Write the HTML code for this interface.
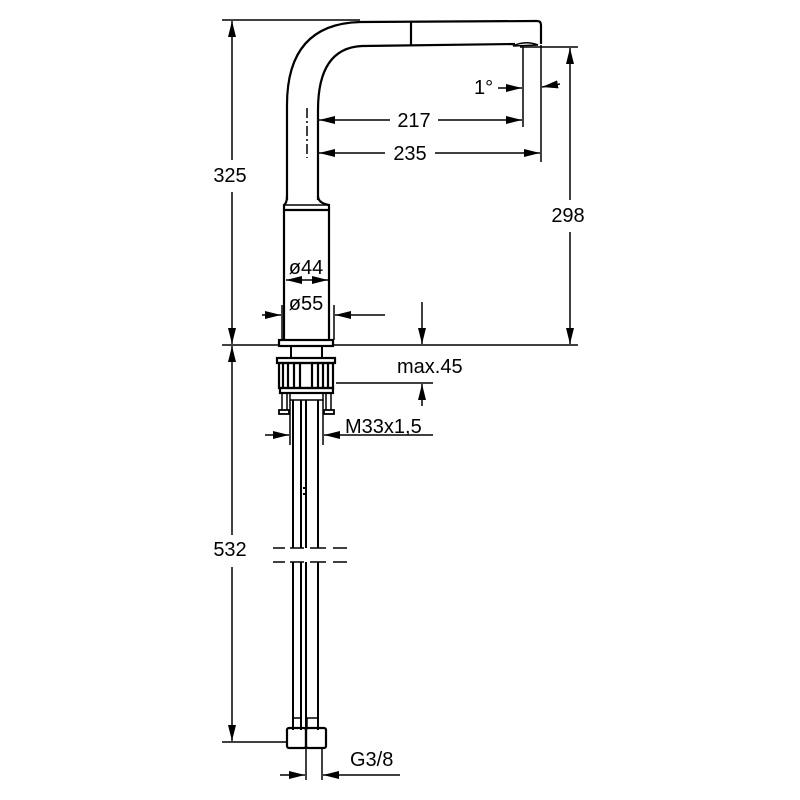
<!DOCTYPE html><html><head><style>body{margin:0;background:#fff}svg{display:block}text{font-family:"Liberation Sans",sans-serif;font-size:20px;fill:#000}</style></head><body>
<svg width="800" height="800" viewBox="0 0 800 800" xmlns="http://www.w3.org/2000/svg">
<defs><marker id="a" viewBox="0 0 16 16" refX="16" refY="8" markerWidth="16" markerHeight="16" markerUnits="userSpaceOnUse" orient="auto"><path d="M0,4 L16,8 L0,12z" fill="#000"/></marker></defs>
<g stroke="#000" fill="none" stroke-width="1.5">
<line x1="222" y1="20" x2="360" y2="20"/>
<line x1="222" y1="345" x2="280" y2="345"/><line x1="334" y1="345" x2="578" y2="345"/>
<line x1="520" y1="47" x2="578" y2="47"/>
<line x1="222" y1="742" x2="288" y2="742"/>
<line x1="232" y1="160" x2="232" y2="21" marker-end="url(#a)"/><line x1="232" y1="192" x2="232" y2="344" marker-end="url(#a)"/>
<line x1="232" y1="535" x2="232" y2="346" marker-end="url(#a)"/><line x1="232" y1="567" x2="232" y2="741" marker-end="url(#a)"/>
<line x1="570" y1="200" x2="570" y2="48" marker-end="url(#a)"/><line x1="570" y1="232" x2="570" y2="344" marker-end="url(#a)"/>
<path d="M287,200 L287,105 Q287,24 360,22 L537,21 Q541,21 541,25 L541,44" stroke-width="2.2"/>
<path d="M318,200 L318,110 Q318,48 362,46 L515,44" stroke-width="2.2"/>
<line x1="411" y1="22" x2="411" y2="45" stroke-width="2.2"/>
<path d="M513,46 Q525,40 538,45 Z" stroke-width="1.5"/>
<line x1="523" y1="47" x2="523" y2="127"/><line x1="541" y1="45" x2="541" y2="162"/>
<line x1="498" y1="88" x2="522" y2="88" marker-end="url(#a)"/><line x1="560" y1="84" x2="542" y2="87" marker-end="url(#a)"/>
<line x1="307" y1="108" x2="307" y2="158" stroke-dasharray="10,3,2,3"/>
<line x1="390" y1="120" x2="319" y2="120" marker-end="url(#a)"/><line x1="438" y1="120" x2="522" y2="120" marker-end="url(#a)"/>
<line x1="385" y1="153" x2="319" y2="153" marker-end="url(#a)"/><line x1="435" y1="153" x2="540" y2="153" marker-end="url(#a)"/>
<path d="M287,196 Q287,203 284,205 L284,340 M318,196 Q318,203 329,205 L329,340 M284,210 L329,210" stroke-width="2.2"/>
<path d="M284,205 L329,205" stroke-width="1.5"/>
<rect x="279" y="340" width="54" height="6" stroke-width="2.2"/>
<line x1="282" y1="305" x2="282" y2="340"/><line x1="334" y1="305" x2="334" y2="340"/>
<line x1="307" y1="280" x2="286" y2="280" marker-end="url(#a)"/><line x1="307" y1="280" x2="328" y2="280" marker-end="url(#a)"/>
<line x1="262" y1="315" x2="281" y2="315" marker-end="url(#a)"/><line x1="385" y1="315" x2="335" y2="315" marker-end="url(#a)"/>
<line x1="422" y1="302" x2="422" y2="344" marker-end="url(#a)"/>
<line x1="336" y1="383" x2="433" y2="383"/>
<line x1="422" y1="406" x2="422" y2="384" marker-end="url(#a)"/>
<path d="M291,346 V358 M322,346 V358" stroke-width="2"/>
<rect x="277" y="358" width="58" height="5" stroke-width="2.2"/>
<rect x="279" y="363" width="54" height="25" stroke-width="2.2"/>
<path d="M283,363V388M288,363V388M294,363V388M300,363V388M312,363V388M318,363V388M323,363V388M328,363V388" stroke-width="2.2"/>
<rect x="280" y="388" width="53" height="5" stroke-width="2.2"/>
<rect x="290" y="393" width="33" height="7" stroke-width="1.5"/>
<path d="M282,393V410M287,393V410M326,393V410M331,393V410" stroke-width="1.5"/>
<rect x="279" y="410" width="10" height="4" stroke-width="1.8"/><rect x="324" y="410" width="10" height="4" stroke-width="1.8"/>
<line x1="290" y1="400" x2="290" y2="445"/><line x1="323" y1="400" x2="323" y2="445"/>
<line x1="265" y1="435" x2="289" y2="435" marker-end="url(#a)"/><line x1="345" y1="435" x2="324" y2="435" marker-end="url(#a)"/><line x1="345" y1="435" x2="433" y2="435"/>
<path d="M293,400V548M301,400V548M306,400V548M318,400V548M293,562V730M301,562V730M306,562V730M318,562V730" stroke-width="2"/>
<path d="M303,488h3M303,494h3" stroke-width="2"/>
<path d="M273,548h12M290,548h14M310,548h16M333,548h14M273,562h12M290,562h14M310,562h16M333,562h14" stroke-width="1.5"/>
<rect x="293" y="718" width="8" height="10" stroke-width="1.5"/><rect x="307" y="718" width="11" height="10" stroke-width="1.5"/>
<rect x="287" y="728" width="19" height="20" rx="2" stroke-width="2.2"/><rect x="306" y="728" width="20" height="20" rx="2" stroke-width="2.2"/>
<line x1="306" y1="748" x2="306" y2="780"/><line x1="322" y1="748" x2="322" y2="780"/>
<line x1="280" y1="775" x2="305" y2="775" marker-end="url(#a)"/><line x1="400" y1="775" x2="323" y2="775" marker-end="url(#a)"/>
</g>
<text x="230" y="182" text-anchor="middle">325</text>
<text x="230" y="556" text-anchor="middle">532</text>
<text x="568" y="222" text-anchor="middle">298</text>
<text x="474" y="94">1°</text>
<text x="414" y="127" text-anchor="middle">217</text>
<text x="410" y="160" text-anchor="middle">235</text>
<text x="306" y="274" text-anchor="middle">ø44</text>
<text x="306" y="310" text-anchor="middle">ø55</text>
<text x="397" y="373">max.45</text>
<text x="345" y="433">M33x1,5</text>
<text x="350" y="766">G3/8</text>
</svg></body></html>
